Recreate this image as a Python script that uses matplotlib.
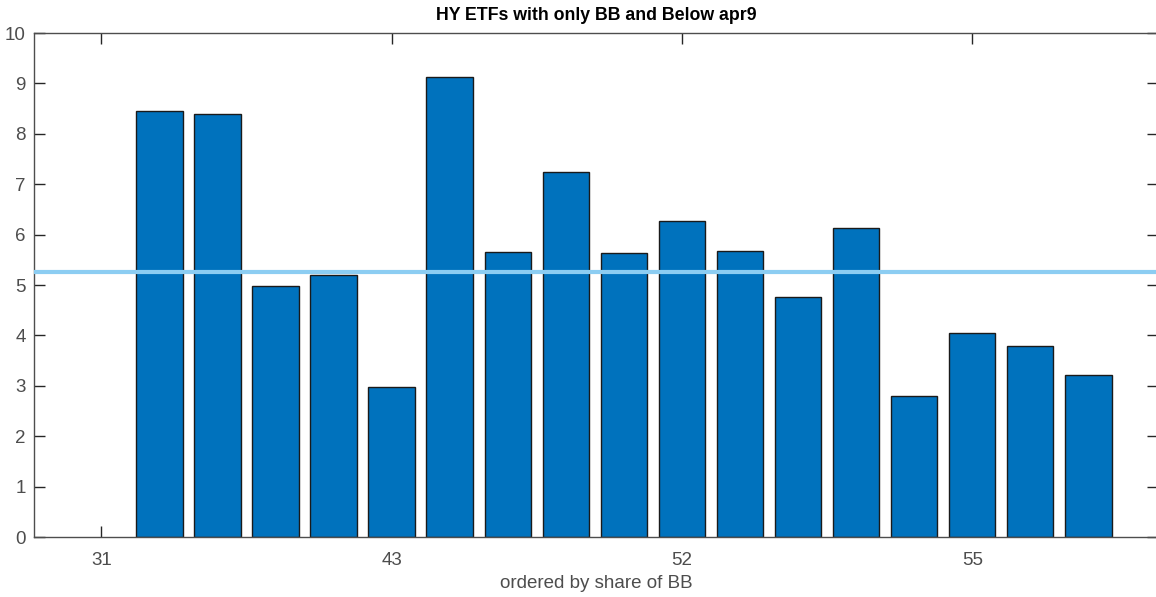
import matplotlib
matplotlib.use("Agg")
import matplotlib.pyplot as plt
import numpy as np

plt.rcParams['font.family'] = ['Liberation Sans', 'DejaVu Sans']

title = "HY ETFs with only BB and Below apr9"
xlabel = "ordered by share of BB"
positions = list(range(2, 19))
values = [8.45, 8.40, 4.99, 5.20, 2.97, 9.12, 5.66, 7.24, 5.64, 6.27,
          5.68, 4.76, 6.14, 2.79, 4.04, 3.79, 3.22]
tick_positions = [1, 6, 11, 16]
tick_labels = ["31", "43", "52", "55"]
average = 5.25

fig = plt.figure(figsize=(11.56, 5.97), dpi=100)
ax = fig.add_axes([34/1156, 60/597, 1124/1156, 504/597])

ax.bar(positions, values, width=0.8, color='#0072bd', edgecolor='#1a1a1a', linewidth=1.0, zorder=2)
ax.axhline(average, color='#8ccdf2', linewidth=3, zorder=3)

ax.set_xlim(-0.16, 19.2)
ax.set_ylim(0, 10)
ax.set_yticks(range(0, 11))
ax.set_xticks(tick_positions)
ax.set_xticklabels(tick_labels)

grey = '#4d4d4d'
for s in ax.spines.values():
    s.set_color(grey)
    s.set_linewidth(1.0)
ax.tick_params(direction='in', length=8, width=1, colors='#262626',
               labelcolor=grey, labelsize=13.5, top=True, right=True)
ax.tick_params(axis='y', pad=6)
ax.tick_params(axis='x', pad=11)
ax.set_xlabel(xlabel, fontsize=13.5, color=grey, labelpad=4)
ax.set_title(title, fontsize=12.8, fontweight='bold', color='black', pad=9)

fig.savefig("out.png", dpi=100)
